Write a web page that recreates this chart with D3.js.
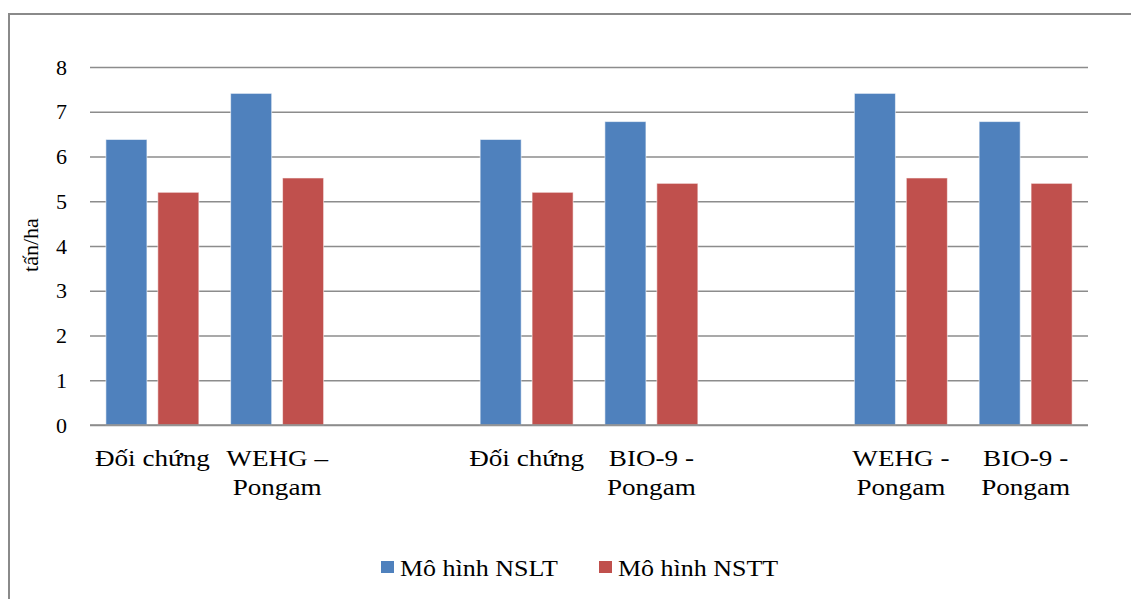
<!DOCTYPE html>
<html>
<head>
<meta charset="utf-8">
<script src="https://cdn.jsdelivr.net/npm/d3@7"></script>
<style>
  html, body { margin: 0; padding: 0; background: #fff; }
  svg { display: block; }
</style>
</head>
<body>
<svg id="chart" width="1131" height="599" font-family="Liberation Serif" style="font-family: 'Liberation Serif'">
</svg>
<script>
// Category labels (empty strings are spacer slots between the three groups)
const categories = ["Đối chứng", "WEHG –\nPongam", "", "Đối chứng", "BIO-9 -\nPongam", "", "WEHG -\nPongam", "BIO-9 -\nPongam"];
// Yield values, tấn/ha
const nslt = [6.38, 7.41, null, 6.38, 6.78, null, 7.41, 6.78];
const nstt = [5.2, 5.52, null, 5.2, 5.4, null, 5.52, 5.4];
const seriesNames = ["Mô hình NSLT", "Mô hình NSTT"];
const seriesColors = ["#4F81BD", "#C0504D"];
const yTicks = [0, 1, 2, 3, 4, 5, 6, 7, 8];

const FONT = "Liberation Serif";
const svg = d3.select("#chart");
const margin = { left: 90, right: 1088, top: 67, bottom: 425 };
const stretch = 1.13;

// Outer chart frame
svg.append("rect")
  .attr("x", 9).attr("y", 14)
  .attr("width", 1200).attr("height", 700)
  .attr("fill", "none").attr("stroke", "#8a8a8a").attr("stroke-width", 2);

const idx = categories.map((d, i) => i);
const x0 = d3.scaleBand().domain(idx).range([margin.left, margin.right]).padding(0);
const x1 = d3.scaleBand().domain([0, 1]).range([0, x0.bandwidth()])
  .paddingInner(0.21).paddingOuter(0.306);
const y = d3.scaleLinear().domain([0, 8]).range([margin.bottom, margin.top]);

// Gridlines and y tick labels
const yAxis = svg.append("g")
  .attr("transform", `translate(${margin.left},0)`)
  .call(d3.axisLeft(y).tickValues(yTicks).tickSize(-(margin.right - margin.left)).tickPadding(23).tickFormat(d3.format("d")));
yAxis.attr("font-family", FONT).attr("font-size", 22);
yAxis.select(".domain").remove();
yAxis.selectAll(".tick line").attr("stroke", "#8c8c8c").attr("stroke-width", 1.5);
yAxis.selectAll(".tick text")
  .attr("font-family", FONT)
  .style("font-family", FONT)
  .style("font-size", "22px").attr("fill", "#000");

// Bars
const series = [nslt, nstt];
series.forEach((vals, s) => {
  svg.append("g").selectAll("rect")
    .data(vals.map((v, i) => ({ i, v })).filter(d => d.v != null))
    .join("rect")
    .attr("x", d => x0(d.i) + x1(s))
    .attr("width", x1.bandwidth())
    .attr("y", d => y(d.v))
    .attr("height", d => y(0) - y(d.v))
    .attr("fill", seriesColors[s])
    .attr("stroke", "rgba(255,255,255,0.55)")
    .attr("stroke-width", 1);
});

// Baseline over bars
svg.append("line")
  .attr("x1", margin.left).attr("x2", margin.right)
  .attr("y1", y(0)).attr("y2", y(0))
  .attr("stroke", "#8c8c8c").attr("stroke-width", 1.5);

// Category labels (two-line)
categories.forEach((c, i) => {
  if (!c) return;
  const g = svg.append("g")
    .attr("transform", `translate(${x0(i) + x0.bandwidth() / 2},466) scale(${stretch},1)`);
  c.split("\n").forEach((line, k) => {
    g.append("text")
      .attr("y", k * 29)
      .attr("text-anchor", "middle")
      .attr("font-family", FONT)
      .style("font-family", FONT)
      .style("font-size", "24px")
      .attr("fill", "#000")
      .text(line);
  });
});

// Y-axis title
svg.append("text")
  .attr("transform", "translate(38,245) rotate(-90)")
  .attr("text-anchor", "middle")
  .attr("font-family", FONT)
  .style("font-family", FONT)
  .style("font-size", "22px")
  .attr("fill", "#000")
  .text("tấn/ha");

// Legend
const legendX = [381, 599];
seriesNames.forEach((name, s) => {
  svg.append("rect")
    .attr("x", legendX[s]).attr("y", 561)
    .attr("width", 13).attr("height", 12)
    .attr("fill", seriesColors[s]);
  svg.append("text")
    .attr("transform", `translate(${legendX[s] + 19},576) scale(${stretch},1)`)
    .attr("font-family", FONT)
    .style("font-family", FONT)
    .style("font-size", "23px")
    .attr("fill", "#000")
    .text(name);
});
</script>
</body>
</html>
